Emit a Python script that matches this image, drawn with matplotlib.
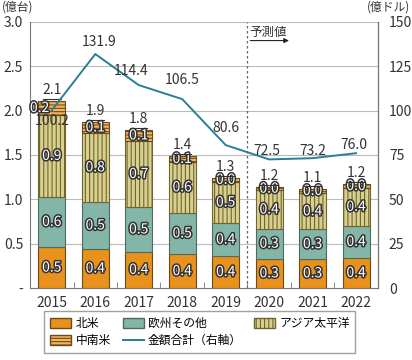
import numpy as np
import matplotlib
matplotlib.use("Agg")
import matplotlib.pyplot as plt
import matplotlib.patheffects as pe
from matplotlib.lines import Line2D
from matplotlib.patches import Patch

plt.rcParams['font.family'] = ['Noto Sans CJK JP', 'DejaVu Sans']
plt.rcParams['hatch.linewidth'] = 0.8

# -----------------------------
# data
# -----------------------------
years = ['2015', '2016', '2017', '2018', '2019', '2020', '2021', '2022']
north_america = [0.46, 0.44, 0.41, 0.38, 0.36, 0.33, 0.33, 0.34]
europe_other = [0.57, 0.53, 0.50, 0.47, 0.37, 0.34, 0.33, 0.36]
asia_pacific = [0.92, 0.78, 0.75, 0.57, 0.47, 0.43, 0.41, 0.43]
latin_america = [0.16, 0.12, 0.12, 0.07, 0.04, 0.04, 0.05, 0.04]
amount_total = [100.2, 131.9, 114.4, 106.5, 80.6, 72.5, 73.2, 76.0]

na_labels = ['0.5', '0.4', '0.4', '0.4', '0.4', '0.3', '0.3', '0.4']
eu_labels = ['0.6', '0.5', '0.5', '0.5', '0.4', '0.3', '0.3', '0.4']
ap_labels = ['0.9', '0.8', '0.7', '0.6', '0.5', '0.4', '0.4', '0.4']
la_labels = ['0.2', '0.1', '0.1', '0.1', '0.0', '0.0', '0.0', '0.0']
total_labels = ['2.1', '1.9', '1.8', '1.4', '1.3', '1.2', '1.1', '1.2']

c_na = '#E8911C'
c_eu = '#83B6A8'
c_ap = '#D9CF8E'
c_la = '#F6B45A'
c_line = '#2A7E96'
edge = '#6B4A1E'

fig = plt.figure(figsize=(4.12, 3.6), dpi=100)
ax = fig.add_axes([0.073, 0.2, 0.844, 0.739])
ax2 = ax.twinx()

x = np.arange(len(years))
w = 0.62
b1 = np.array(north_america)
b2 = b1 + np.array(europe_other)
b3 = b2 + np.array(asia_pacific)
tops = b3 + np.array(latin_america)

ax.bar(x, north_america, w, color=c_na, edgecolor=edge, linewidth=0.8, zorder=3)
ax.bar(x, europe_other, w, bottom=b1, color=c_eu, edgecolor='#4E6B5E', linewidth=0.8, zorder=3)
ax.bar(x, asia_pacific, w, bottom=b2, color=c_ap, edgecolor='#6E6630', linewidth=0.8,
       hatch='||||', zorder=3)
ax.bar(x, latin_america, w, bottom=b3, color=c_la, edgecolor=edge, linewidth=0.8,
       hatch='-----', zorder=3)

stroke = [pe.withStroke(linewidth=2.2, foreground='#333333')]
for i in range(len(years)):
    ax.text(x[i], north_america[i] / 2, na_labels[i], ha='center', va='center', fontsize=10,
            color='white', path_effects=stroke, zorder=5)
    ax.text(x[i], b1[i] + europe_other[i] / 2, eu_labels[i], ha='center', va='center', fontsize=10,
            color='white', path_effects=stroke, zorder=5)
    ax.text(x[i], b2[i] + asia_pacific[i] / 2, ap_labels[i], ha='center', va='center', fontsize=10,
            color='white', path_effects=stroke, zorder=5)
    lx = x[i] - 0.28 if i == 0 else x[i]
    ax.text(lx, b3[i] + latin_america[i] / 2, la_labels[i], ha='center', va='center', fontsize=10,
            color='white', path_effects=stroke, zorder=5)
    ax.annotate(total_labels[i], (x[i], tops[i]), xytext=(0, 4), textcoords='offset pixels',
                ha='center', va='bottom', fontsize=10, color='#333333', zorder=5)
    ax.plot([x[i] - 0.2, x[i] + 0.2], [tops[i] + 0.025, tops[i] + 0.025], color='#333333',
            linewidth=0.8, zorder=5)

ax.set_xlim(-0.5, 7.5)
ax.set_ylim(0, 3.0)
ax.set_yticks([0, 0.5, 1.0, 1.5, 2.0, 2.5, 3.0])
ax.set_yticklabels(['-', '0.5', '1.0', '1.5', '2.0', '2.5', '3.0'])
ax.set_xticks(x)
ax.set_xticklabels(years)
ax.set_xticks(x[:-1] + 0.5, minor=True)
ax.tick_params(axis='x', which='major', length=0, labelsize=10, colors='#333333', pad=6)
ax.tick_params(axis='x', which='minor', length=4, direction='in', color='#777777')
ax.tick_params(axis='y', length=0, labelsize=10, colors='#333333', pad=5)
ax.grid(axis='y', color='#BBBBBB', linewidth=0.8, zorder=0)
ax.set_axisbelow(True)

ax.spines['top'].set_visible(False)
ax2.spines['top'].set_visible(False)
ax.spines['left'].set_color('#777777')
ax.spines['bottom'].set_color('#777777')
ax2.spines['right'].set_color('#777777')
ax2.spines['left'].set_visible(False)
ax2.spines['bottom'].set_visible(False)

ax2.plot(x, amount_total, color=c_line, linewidth=1.4, zorder=6)
ax2.set_ylim(0, 150)
ax2.set_yticks([0, 25, 50, 75, 100, 125, 150])
ax2.tick_params(axis='y', length=0, labelsize=10, colors='#333333', pad=8)

offsets = [(0, -11), (4, 12), (-8, 14), (0, 19), (0, 17), (-2, 8), (0, 7), (-2, 8)]
for i, v in enumerate(amount_total):
    ax2.annotate(f"{v:.1f}", (x[i], v), xytext=offsets[i], textcoords='offset pixels',
                 ha='center', va='center', fontsize=10, color='#333333', zorder=7)

# forecast marker
ax.axvline(4.5, color='#666666', linestyle=(0, (2, 2)), linewidth=0.9, zorder=4)
ax.text(4.55, 2.88, '予測値', ha='left', va='center', fontsize=9, color='#333333')
ax.annotate('', xy=(5.52, 2.79), xytext=(4.5, 2.79),
            arrowprops=dict(arrowstyle='-|>', color='#222222', lw=0.8, mutation_scale=7))

fig.text(0.005, 0.998, '(億台)', ha='left', va='top', fontsize=8.5, color='#333333')
fig.text(0.995, 0.998, '(億ドル)', ha='right', va='top', fontsize=8.5, color='#333333')

handles = [Patch(facecolor=c_na, edgecolor=edge, label='北米'),
           Patch(facecolor=c_la, edgecolor=edge, hatch='-----', label='中南米'),
           Patch(facecolor=c_eu, edgecolor='#4E6B5E', label='欧州その他'),
           Line2D([0], [0], color=c_line, linewidth=1.4, label='金額合計（右軸）'),
           Patch(facecolor=c_ap, edgecolor='#6E6630', hatch='||||', label='アジア太平洋')]
fig.legend(handles=handles, loc='lower center', bbox_to_anchor=(0.485, 0.003), ncol=3,
           fontsize=8.5, frameon=True, fancybox=False, edgecolor='#888888',
           handlelength=1.8, handleheight=0.9, columnspacing=1.0, handletextpad=0.35,
           labelspacing=0.35, borderpad=0.5)

plt.savefig('out.png', dpi=100)
plt.close()
